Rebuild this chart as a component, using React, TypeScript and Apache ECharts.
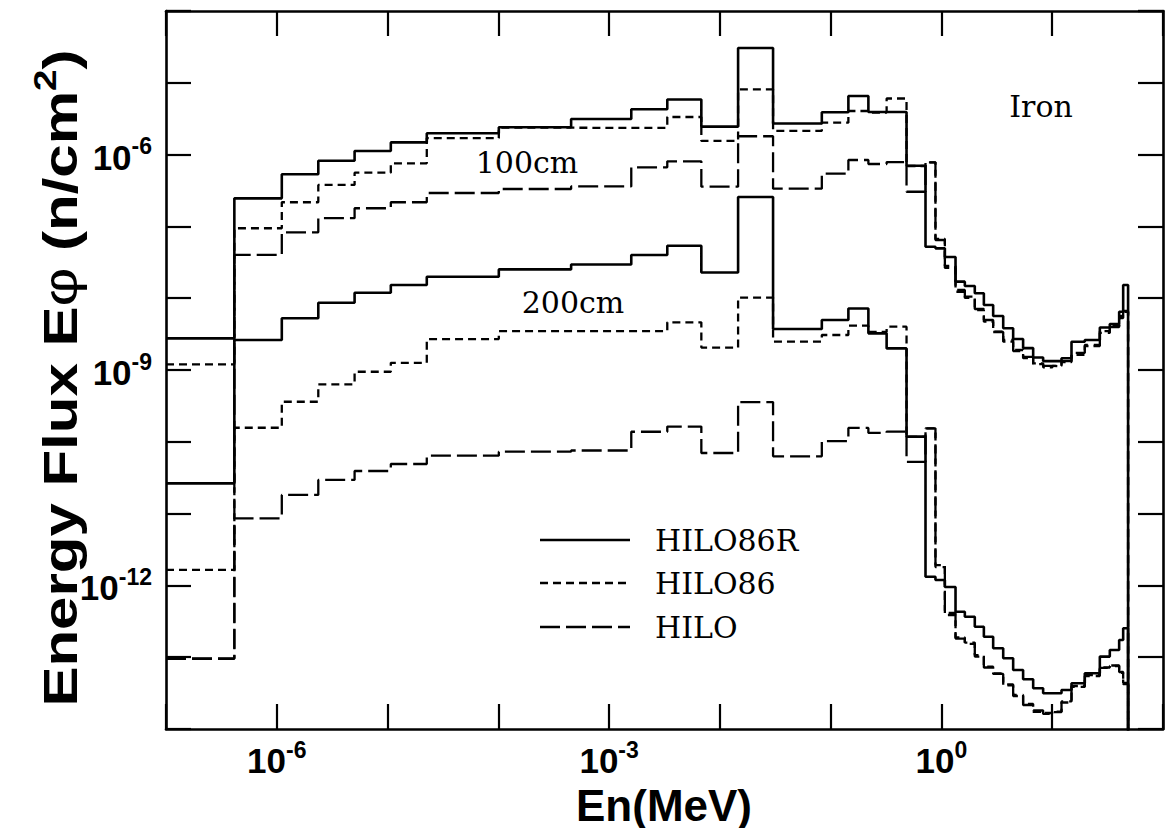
import React, { useEffect, useRef } from 'react';
import * as echarts from 'echarts';

// Energy group boundaries (MeV)
const groupBounds = [
  1e-7, 4.14e-7, 1.11e-6, 2.37e-6, 5.04e-6, 1.07e-5, 2.26e-5, 1.01e-4, 4.54e-4, 1.585e-3,
  3.35e-3, 6.8e-3, 1.46e-2, 3.02e-2, 8.32e-2, 0.1445, 0.219, 0.32, 0.484, 0.718,
  0.883, 1.074, 1.34, 1.626, 2.0, 2.415, 2.93, 3.61, 4.44, 5.46,
  6.73, 8.28, 10.05, 12.13, 14.93, 19.68, 26.9, 33.1, 40.2, 43.7, 48.4,
];

// 100 cm
const hilo86r100 = [
  2.76e-9, 2.46e-7, 5.32e-7, 8.22e-7, 1.12e-6, 1.48e-6, 1.98e-6, 2.40e-6, 3.13e-6, 4.29e-6,
  5.85e-6, 2.45e-6, 3.05e-5, 2.71e-6, 3.88e-6, 6.55e-6, 3.92e-6, 3.92e-6, 7.0e-7, 5.21e-8,
  4.95e-8, 3.75e-8, 1.70e-8, 1.48e-8, 1.17e-8, 8.04e-9, 5.65e-9, 3.81e-9, 2.70e-9, 2.02e-9,
  1.49e-9, 1.33e-9, 1.33e-9, 1.46e-9, 2.48e-9, 2.62e-9, 3.91e-9, 4.38e-9, 6.49e-9, 1.53e-8,
];
const hilo86_100 = [
  1.20e-9, 9.42e-8, 2.17e-7, 3.78e-7, 5.60e-7, 7.57e-7, 1.70e-6, 2.37e-6, 2.35e-6, 2.35e-6,
  3.34e-6, 1.55e-6, 8.11e-6, 2.14e-6, 2.78e-6, 4.05e-6, 3.86e-6, 6.04e-6, 6.94e-7, 7.81e-7,
  6.68e-8, 2.64e-8, 1.23e-8, 1.05e-8, 6.85e-9, 4.71e-9, 3.41e-9, 2.48e-9, 1.90e-9, 1.46e-9,
  1.24e-9, 1.09e-9, 1.14e-9, 1.29e-9, 1.62e-9, 2.16e-9, 3.49e-9, 4.10e-9, 5.30e-9, 6.43e-9,
];
const hilo100 = [
  9.66e-14, 4.00e-8, 8.28e-8, 1.30e-7, 1.79e-7, 2.17e-7, 2.92e-7, 3.32e-7, 3.60e-7, 6.65e-7,
  8.07e-7, 3.57e-7, 1.80e-6, 3.35e-7, 5.42e-7, 8.41e-7, 7.40e-7, 7.88e-7, 3.04e-7, 7.81e-7,
  6.47e-8, 2.81e-8, 1.30e-8, 1.01e-8, 7.07e-9, 4.97e-9, 3.38e-9, 2.62e-9, 1.84e-9, 1.52e-9,
  1.21e-9, 1.14e-9, 1.12e-9, 1.33e-9, 1.73e-9, 2.23e-9, 3.28e-9, 3.97e-9, 5.65e-9, 6.63e-9,
];

// 200 cm
const hilo86r200 = [
  2.64e-11, 2.62e-9, 5.25e-9, 8.65e-9, 1.19e-8, 1.53e-8, 1.99e-8, 2.52e-8, 2.94e-8, 4.00e-8,
  5.38e-8, 2.28e-8, 2.57e-7, 3.72e-9, 4.97e-9, 7.19e-9, 3.24e-9, 2.00e-9, 1.18e-10, 1.32e-12,
  1.19e-12, 9.50e-13, 4.30e-13, 3.66e-13, 2.66e-13, 1.93e-13, 1.33e-13, 9.66e-14, 6.64e-14, 4.92e-14,
  3.69e-14, 3.14e-14, 3.14e-14, 3.49e-14, 4.33e-14, 5.97e-14, 1.02e-13, 1.26e-13, 1.74e-13, 2.53e-13,
];
const hilo86_200 = [
  1.64e-12, 1.57e-10, 3.61e-10, 6.32e-10, 9.46e-10, 1.26e-9, 2.70e-9, 3.49e-9, 3.49e-9, 3.49e-9,
  4.61e-9, 2.05e-9, 1.02e-8, 2.48e-9, 3.07e-9, 4.14e-9, 3.38e-9, 4.01e-9, 1.17e-10, 1.54e-10,
  1.92e-12, 3.87e-13, 1.88e-13, 1.60e-13, 1.02e-13, 7.38e-14, 5.97e-14, 4.04e-14, 2.88e-14, 2.23e-14,
  1.74e-14, 1.67e-14, 1.74e-14, 2.34e-14, 3.97e-14, 5.65e-14, 7.19e-14, 7.54e-14, 6.03e-14, 4.23e-14,
];
const hilo200 = [
  9.5e-14, 8.59e-12, 1.82e-11, 2.94e-11, 3.92e-11, 4.91e-11, 6.40e-11, 7.28e-11, 7.57e-11, 1.38e-10,
  1.63e-10, 6.98e-11, 3.58e-10, 6.28e-11, 1.02e-10, 1.56e-10, 1.33e-10, 1.39e-10, 5.24e-11, 1.54e-10,
  1.80e-12, 4.13e-13, 1.82e-13, 1.53e-13, 1.07e-13, 7.19e-14, 5.84e-14, 4.17e-14, 2.98e-14, 2.16e-14,
  1.81e-14, 1.62e-14, 1.72e-14, 2.42e-14, 3.85e-14, 5.47e-14, 7.08e-14, 7.66e-14, 6.22e-14, 4.38e-14,
];

const legendNames = ['HILO86R', 'HILO86', 'HILO'];
const xLabelExps = [-6, -3, 0];
const yLabelExps = [-6, -9, -12];
const FLOOR = 1e-16; // below the axis: the histogram falls to the bottom after the last group

const SANS = '"Liberation Sans", Arial, Helvetica, sans-serif';
const SERIF = '"DejaVu Serif", "Liberation Serif", serif';

function toSteps(values: number[]) {
  const pts: number[][] = values.map((v, i) => [groupBounds[i], v]);
  pts.push([groupBounds[groupBounds.length - 1], FLOOR]);
  return pts;
}

const solidStyle = { color: '#000', width: 2.6, type: 'solid' as const };
const shortDash = { color: '#000', width: 2.3, type: [8, 5] as number[] };
const longDash = { color: '#000', width: 2.3, type: [20, 6] as number[] };

export default function App() {
  const ref = useRef<HTMLDivElement>(null);
  useEffect(() => {
    const chart = echarts.init(ref.current!, null, { renderer: 'svg' });
    const rich = {
      b: { fontSize: 35, fontWeight: 'bold', fontFamily: SANS, color: '#000', lineHeight: 40, verticalAlign: 'bottom' },
      s: { fontSize: 23, fontWeight: 'bold', fontFamily: SANS, color: '#000', lineHeight: 24, verticalAlign: 'top' },
    };
    const fmt = (allowed: number[]) => (v: number) => {
      const e = Math.round(Math.log10(v));
      return allowed.includes(e) ? `{b|10}{s|${e}}` : '';
    };
    const axisLine = { show: true, onZero: false, lineStyle: { color: '#000', width: 2.6 } };
    const axisTick = { show: true, inside: true, length: 25, lineStyle: { color: '#000', width: 2.2 } };
    const common = {
      type: 'log' as const,
      logBase: 10,
      interval: 1,
      axisLine,
      axisTick,
      minorTick: { show: false },
      splitLine: { show: false },
    };
    const mk = (name: string, values: number[], ls: any) => ({
      name,
      type: 'line',
      step: 'end',
      data: toSteps(values),
      showSymbol: false,
      symbol: 'none',
      clip: true,
      silent: true,
      lineStyle: ls,
      xAxisIndex: 0,
      yAxisIndex: 0,
    });
    const lgY = [540, 583, 627];
    const lgStyles = [
      { stroke: '#000', lineWidth: 2.6 },
      { stroke: '#000', lineWidth: 2.3, lineDash: [8, 5] },
      { stroke: '#000', lineWidth: 2.3, lineDash: [20, 6] },
    ];
    const txt = (text: string, x: number, y: number, font: string) => ({
      type: 'text',
      x,
      y,
      silent: true,
      style: { text, font, fill: '#000', align: 'center', verticalAlign: 'middle', textAlign: 'center', textVerticalAlign: 'middle' },
    });
    chart.setOption({
      animation: false,
      backgroundColor: '#fff',
      grid: { left: 166, top: 11, right: 3, bottom: 99, show: false, outerBoundsMode: 'none' },
      xAxis: [
        { ...common, min: 1e-7, max: 100, position: 'bottom', axisLabel: { show: true, margin: 9, formatter: fmt(xLabelExps), rich } },
        { ...common, min: 1e-7, max: 100, position: 'top', axisLabel: { show: false } },
      ],
      yAxis: [
        { ...common, min: 1e-14, max: 1e-4, position: 'left', axisLabel: { show: true, margin: 14, formatter: fmt(yLabelExps), rich } },
        { ...common, min: 1e-14, max: 1e-4, position: 'right', axisLabel: { show: false } },
      ],
      series: [
        mk('HILO 100cm', hilo100, longDash),
        mk('HILO86 100cm', hilo86_100, shortDash),
        mk('HILO86R 100cm', hilo86r100, solidStyle),
        mk('HILO 200cm', hilo200, longDash),
        mk('HILO86 200cm', hilo86_200, shortDash),
        mk('HILO86R 200cm', hilo86r200, solidStyle),
      ],
      graphic: [
        ...legendNames.map((n, i) => ({ type: 'line', silent: true, shape: { x1: 540, y1: lgY[i], x2: 630, y2: lgY[i] }, style: lgStyles[i] })),
        ...legendNames.map((n, i) => ({
          type: 'text', x: 655, y: lgY[i], silent: true,
          style: { text: n, font: `30px ${SERIF}`, fill: '#000', align: 'left', verticalAlign: 'middle', textAlign: 'left', textVerticalAlign: 'middle' },
        })),
        txt('100cm', 527, 162, `30px ${SERIF}`),
        txt('200cm', 573, 302, `30px ${SERIF}`),
        txt('Iron', 1041, 106, `30px ${SERIF}`),
        txt('En(MeV)', 664, 805, `bold 44px ${SANS}`),
        {
          type: 'text',
          x: 57,
          y: 378,
          rotation: Math.PI / 2,
          scaleX: 1.25,
          silent: true,
          style: {
            text: '{t|Energy Flux E}{p|\u03C6}{t| (n/cm}{u|2}{t|)}',
            align: 'center', verticalAlign: 'middle', textAlign: 'center', textVerticalAlign: 'middle',
            rich: {
              t: { fontSize: 48, fontWeight: 'bold', fontFamily: SANS, color: '#000', lineHeight: 56, verticalAlign: 'bottom' },
              p: { fontSize: 48, fontWeight: 'normal', fontFamily: SANS, color: '#000', lineHeight: 56, verticalAlign: 'bottom' },
              u: { fontSize: 31, fontWeight: 'bold', fontFamily: SANS, color: '#000', lineHeight: 33, verticalAlign: 'top' },
            },
          },
        },
      ],
    });
    return () => chart.dispose();
  }, []);
  return <div ref={ref} style={{ position: 'fixed', left: 0, top: 0, width: 1166, height: 828, background: '#fff' }} />;
}
